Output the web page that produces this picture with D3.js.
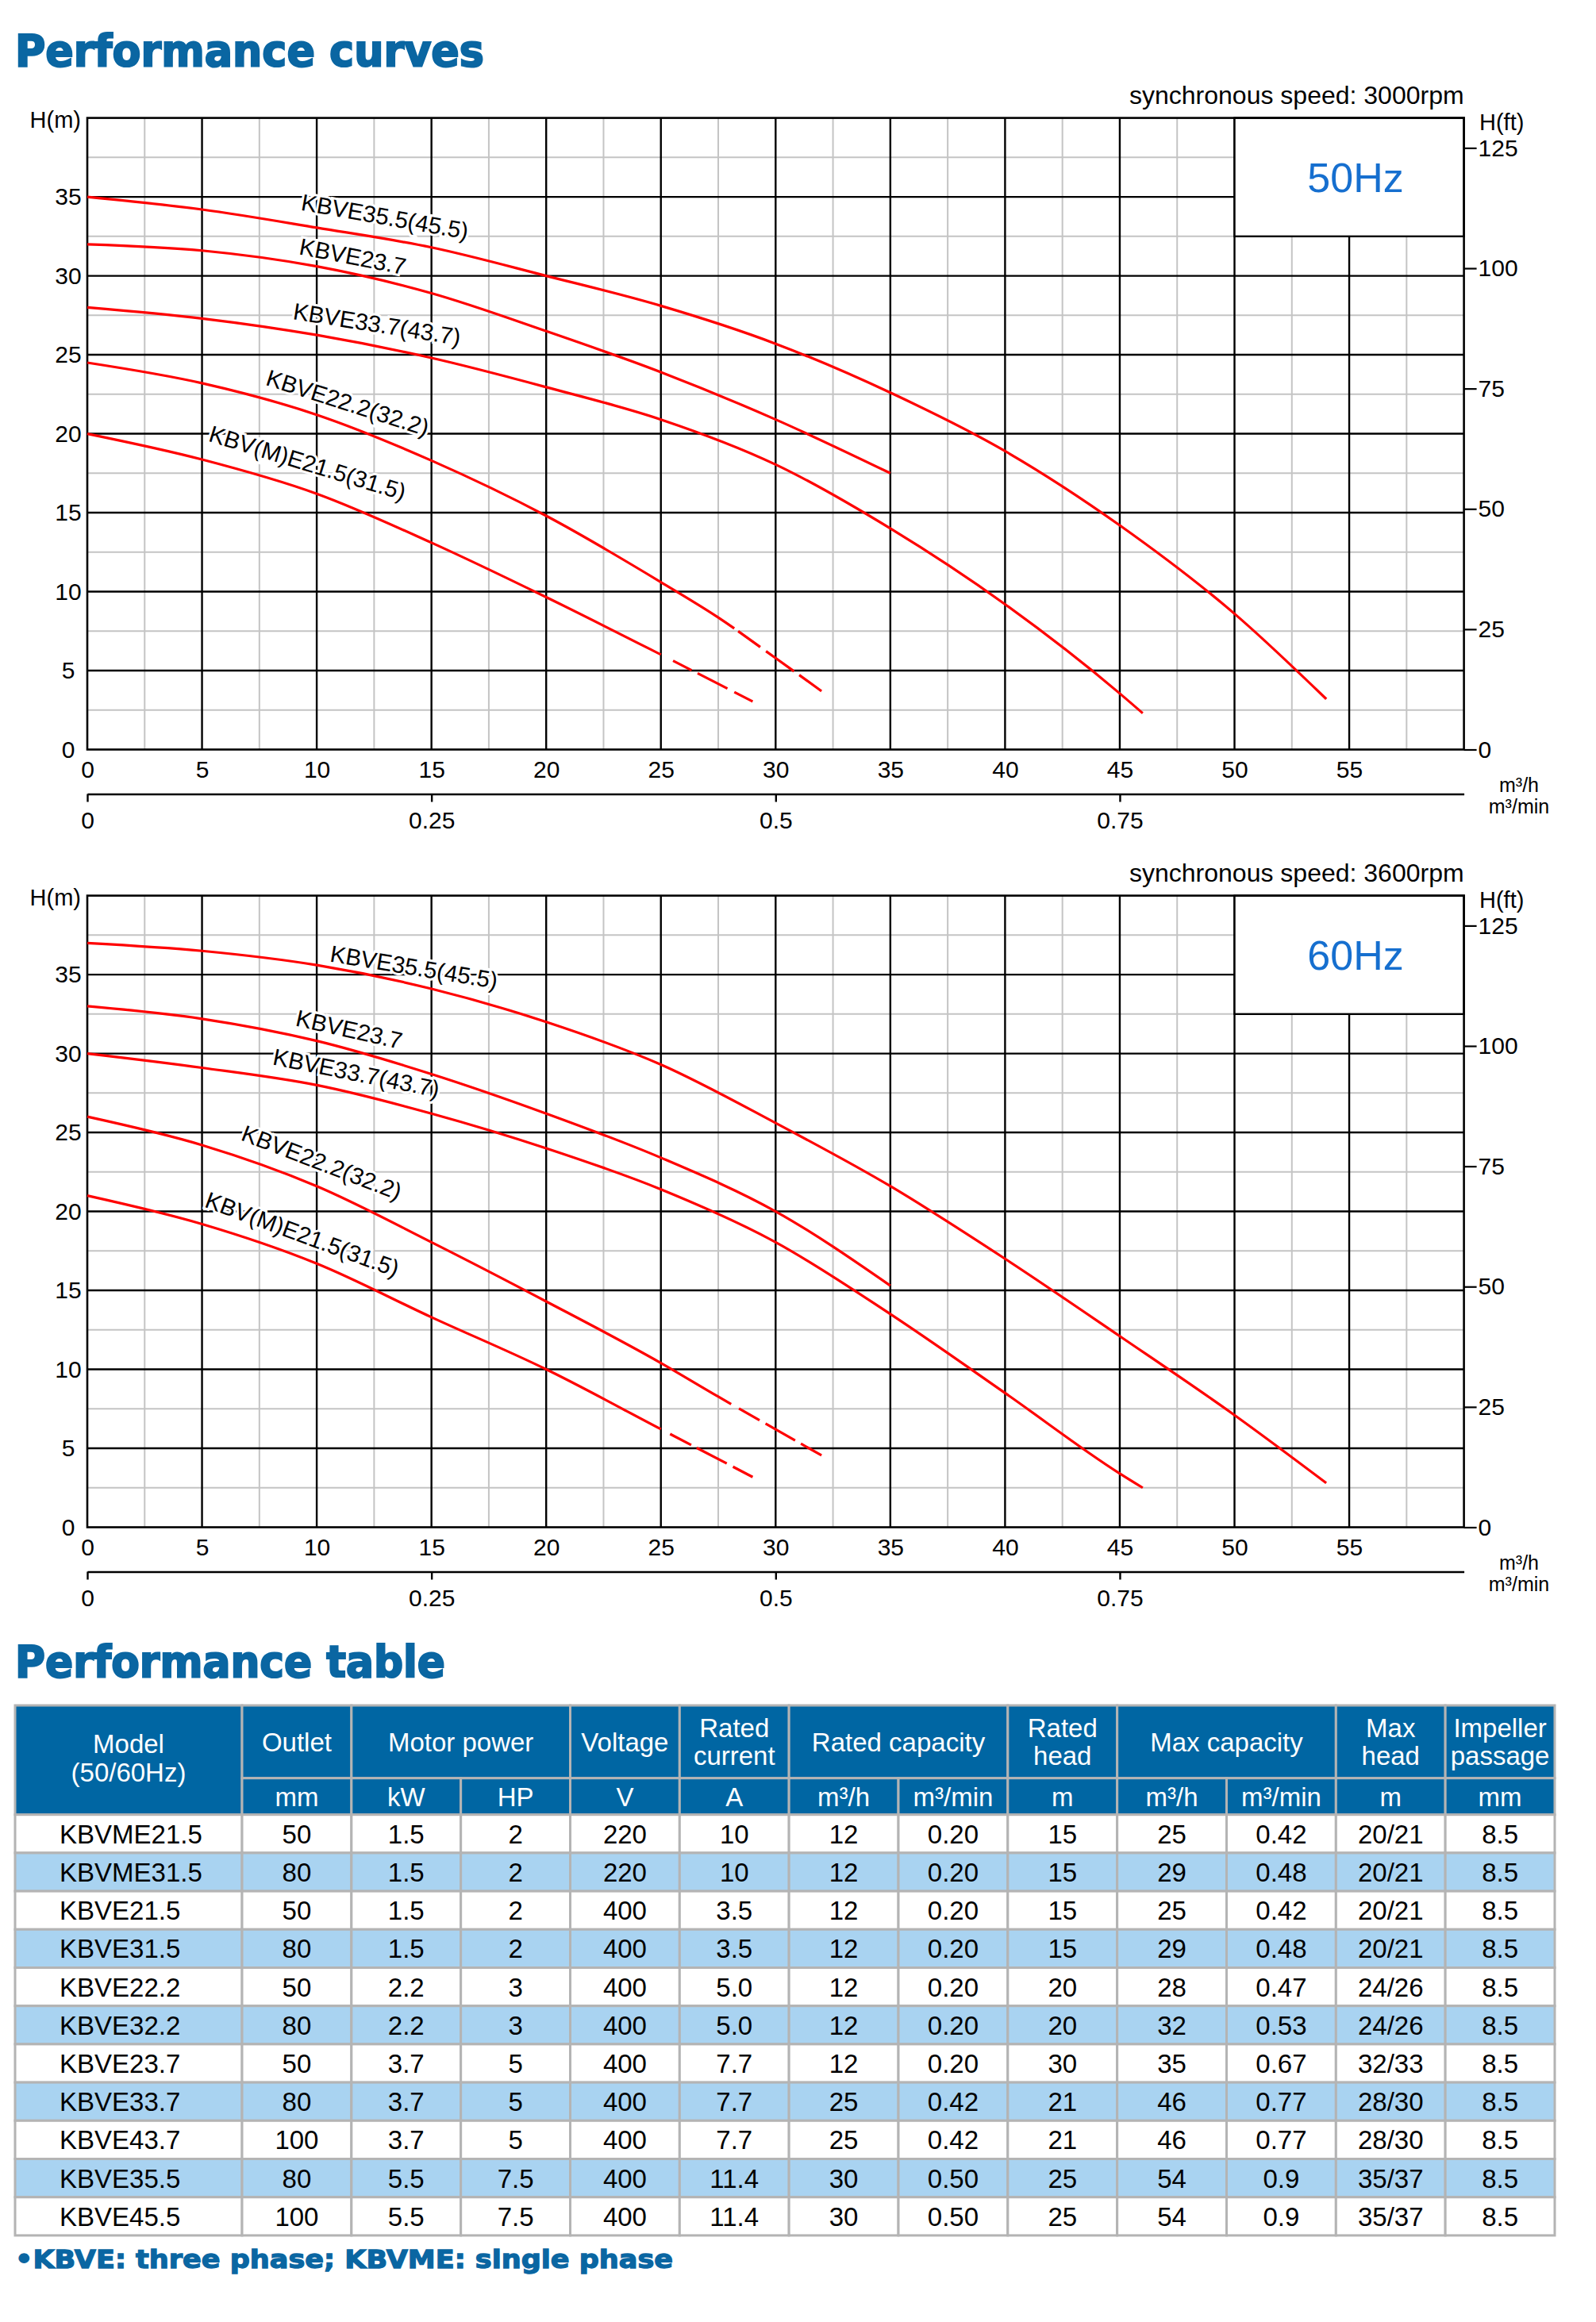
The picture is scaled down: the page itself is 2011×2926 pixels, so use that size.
<!DOCTYPE html>
<html>
<head>
<meta charset="utf-8">
<script src="https://cdn.jsdelivr.net/npm/d3@7"></script>
<style>
  body { margin: 0; background: #fff; }
  svg { display: block; }
</style>
</head>
<body>
<script>
// ---- curve data, Q in m3/h, H in m ----
var curveNames = ['KBVE35.5(45.5)', 'KBVE23.7', 'KBVE33.7(43.7)', 'KBVE22.2(32.2)', 'KBV(M)E21.5(31.5)']

// 50Hz
var c50_355 = [[0,35],[5,34.2],[10,33.05],[15,31.8],[20,30],[25,28.1],[30,25.7],[35,22.6],[40,18.9],[45,14.2],[50,8.6],[54,3.2]]
var c50_237 = [[0,32],[5,31.6],[10,30.6],[15,28.9],[20,26.5],[25,23.9],[30,20.9],[35,17.5]]
var c50_337 = [[0,28],[5,27.3],[10,26.25],[15,24.8],[20,22.95],[25,20.9],[30,18.05],[35,14],[40,9.2],[45,3.55],[46,2.3]]
var c50_222 = [[0,24.5],[5,23.2],[10,21.2],[15,18.3],[20,14.8],[25,10.6],[27.5,8.36],[30,5.79],[32,3.7]]
var c50_215 = [[0,20],[5,18.37],[10,16.2],[15,13.1],[20,9.65],[25,6.01],[29,3.04]]

// 60Hz
var c60_355 = [[0,37],[5,36.5],[10,35.6],[15,34.1],[20,32],[25,29.3],[30,25.6],[35,21.6],[40,17],[45,12.1],[50,7.1],[54,2.8]]
var c60_237 = [[0,33],[5,32.2],[10,30.8],[15,28.7],[20,26.2],[25,23.4],[30,20],[35,15.3]]
var c60_337 = [[0,30],[5,29.1],[10,28],[15,26.2],[20,24],[25,21.4],[30,18.05],[35,13.5],[40,8.5],[45,3.4],[46,2.5]]
var c60_222 = [[0,26],[5,24.2],[10,21.6],[15,18.05],[20,14.3],[25,10.4],[27.5,8.27],[30,6.2],[32,4.55]]
var c60_215 = [[0,21],[5,19.2],[10,16.7],[15,13.3],[20,10],[25,6.21],[29,3.18]]

// dashed tails: solid up to x, then dash pieces [from, to] in m3/h
var tail50 = { 3: [28.2, [[28.37,29.33],[29.58,30.8],[31.03,32.04]]],
               4: [25, [[25.53,26.34],[26.6,27.9],[28.2,29.04]]] }
var tail60 = { 3: [28.06, [[28.4,29.3],[29.56,30.85],[31.1,32.04]]],
               4: [25, [[25.4,26.32],[26.56,27.87],[28.14,29.04]]] }

// curve label anchors [Q, H, angle]
var labelAt50 = [[9.28,34.17,10],[9.19,31.37,11],[8.93,27.27,9],[7.73,23.1,17.7],[5.24,19.55,17]]
var labelAt60 = [[10.54,35.83,9.3],[9.04,31.77,12.6],[8.04,29.31,11.3],[6.65,24.54,21],[5.07,20.3,20.2]]

var xTicks = d3.range(0, 60, 5)
var yTicks = d3.range(0, 40, 5)
var ftTicks = [0, 25, 50, 75, 100, 125]
var minTicks = [0, 0.25, 0.5, 0.75]

// ---- table data ----
var models   = ['KBVME21.5','KBVME31.5','KBVE21.5','KBVE31.5','KBVE22.2','KBVE32.2','KBVE23.7','KBVE33.7','KBVE43.7','KBVE35.5','KBVE45.5']
var outlet   = ['50','80','50','80','50','80','50','80','100','80','100']
var kW       = ['1.5','1.5','1.5','1.5','2.2','2.2','3.7','3.7','3.7','5.5','5.5']
var HP       = ['2','2','2','2','3','3','5','5','5','7.5','7.5']
var voltage  = ['220','220','400','400','400','400','400','400','400','400','400']
var current  = ['10','10','3.5','3.5','5.0','5.0','7.7','7.7','7.7','11.4','11.4']
var ratedQh  = ['12','12','12','12','12','12','12','25','25','30','30']
var ratedQm  = ['0.20','0.20','0.20','0.20','0.20','0.20','0.20','0.42','0.42','0.50','0.50']
var ratedH   = ['15','15','15','15','20','20','30','21','21','25','25']
var maxQh    = ['25','29','25','29','28','32','35','46','46','54','54']
var maxQm    = ['0.42','0.48','0.42','0.48','0.47','0.53','0.67','0.77','0.77','0.9','0.9']
var maxH     = ['20/21','20/21','20/21','20/21','24/26','24/26','32/33','28/30','28/30','35/37','35/37']
var passage  = ['8.5','8.5','8.5','8.5','8.5','8.5','8.5','8.5','8.5','8.5','8.5']

var headGroups = [
  { text: ['Outlet'], from: 0, to: 0 },
  { text: ['Motor power'], from: 1, to: 2 },
  { text: ['Voltage'], from: 3, to: 3 },
  { text: ['Rated', 'current'], from: 4, to: 4 },
  { text: ['Rated capacity'], from: 5, to: 6 },
  { text: ['Rated', 'head'], from: 7, to: 7 },
  { text: ['Max capacity'], from: 8, to: 9 },
  { text: ['Max', 'head'], from: 10, to: 10 },
  { text: ['Impeller', 'passage'], from: 11, to: 11 }
]
var units = ['mm','kW','HP','V','A','m³/h','m³/min','m','m³/h','m³/min','m','mm']

// ---- drawing ----
var FONT = '"Liberation Sans", Arial, Helvetica, sans-serif'
var HEAVY = '"DejaVu Sans", "Liberation Sans", sans-serif'
var BLUE = '#0a66a2'

var svg = d3.select('body').append('svg')
  .attr('width', 2011)
  .attr('height', 2926)
  .style('background', '#fff')

svg.append('text')
  .attr('x', 19).attr('y', 83)
  .attr('font-family', HEAVY).attr('font-weight', 'bold').attr('font-size', 56)
  .attr('fill', BLUE).attr('stroke', BLUE).attr('stroke-width', 2.2)
  .attr('textLength', 591).attr('lengthAdjust', 'spacingAndGlyphs')
  .text('Performance curves')

var charts = [
  { dy: 0, hz: '50Hz', rpm: 'synchronous speed: 3000rpm',
    curves: [c50_355, c50_237, c50_337, c50_222, c50_215], tails: tail50, labels: labelAt50 },
  { dy: 980, hz: '60Hz', rpm: 'synchronous speed: 3600rpm',
    curves: [c60_355, c60_237, c60_337, c60_222, c60_215], tails: tail60, labels: labelAt60 }
]

charts.forEach(drawChart)

function drawChart(cfg) {
  var g = svg.append('g').attr('transform', 'translate(0,' + cfg.dy + ')')

  var x = d3.scaleLinear().domain([0, 60]).range([110, 1844.6])
  var y = d3.scaleLinear().domain([0, 40]).range([944.5, 148.6])
  var yFt = d3.scaleLinear().domain([0, 40 * 3.28084]).range(y.range())
  var xMin = d3.scaleLinear().domain([0, 1]).range(x.range())

  // minor grid
  g.append('g').selectAll('line').data(d3.range(2.5, 60, 5)).enter().append('line')
    .attr('x1', d => x(d)).attr('x2', d => x(d)).attr('y1', y(0)).attr('y2', y(40))
    .attr('stroke', '#c4c4c4').attr('stroke-width', 2)
  g.append('g').selectAll('line').data(d3.range(2.5, 40, 5)).enter().append('line')
    .attr('y1', d => y(d)).attr('y2', d => y(d)).attr('x1', x(0)).attr('x2', x(60))
    .attr('stroke', '#c4c4c4').attr('stroke-width', 2)

  // major grid
  g.append('g').selectAll('line').data(d3.range(5, 60, 5)).enter().append('line')
    .attr('x1', d => x(d)).attr('x2', d => x(d)).attr('y1', y(0)).attr('y2', y(40))
    .attr('stroke', '#000').attr('stroke-width', 2.4)
  g.append('g').selectAll('line').data(d3.range(5, 40, 5)).enter().append('line')
    .attr('y1', d => y(d)).attr('y2', d => y(d)).attr('x1', x(0)).attr('x2', x(60))
    .attr('stroke', '#000').attr('stroke-width', 2.4)

  // hz box
  g.append('rect')
    .attr('x', x(50)).attr('y', y(40))
    .attr('width', x(60) - x(50)).attr('height', y(32.5) - y(40))
    .attr('fill', '#fff').attr('stroke', '#000').attr('stroke-width', 2.4)
  g.append('text')
    .attr('x', 1708).attr('y', 242.4)
    .attr('text-anchor', 'middle')
    .attr('font-family', FONT).attr('font-size', 52)
    .attr('fill', '#166fcf')
    .text(cfg.hz)

  // frame
  g.append('rect')
    .attr('x', x(0)).attr('y', y(40))
    .attr('width', x(60) - x(0)).attr('height', y(0) - y(40))
    .attr('fill', 'none').attr('stroke', '#000').attr('stroke-width', 2.6)

  // curve labels (white halo knocks out grid)
  g.append('g').selectAll('text').data(cfg.labels).enter().append('text')
    .attr('transform', d => 'translate(' + x(d[0]) + ',' + y(d[1]) + ') rotate(' + d[2] + ')')
    .attr('font-family', FONT).attr('font-size', 29.5)
    .attr('fill', '#000')
    .attr('stroke', '#fff').attr('stroke-width', 6).attr('paint-order', 'stroke')
    .text((d, i) => curveNames[i])

  // curves
  var line = d3.line()
    .x(d => x(d[0]))
    .y(d => y(d[1]))
    .curve(d3.curveMonotoneX)

  var paths = g.append('g').selectAll('path').data(cfg.curves).enter().append('path')
    .attr('d', line)
    .attr('fill', 'none')
    .attr('stroke', '#ff0000')
    .attr('stroke-width', 3.2)

  paths.each(function(d, i) {
    var tail = cfg.tails[i]
    if (!tail) return
    var node = this
    var total = node.getTotalLength()
    var solidEnd = lenAtX(node, x(tail[0]))
    var parts = [solidEnd]
    var prev = solidEnd
    tail[1].forEach(function(seg) {
      var a = lenAtX(node, x(seg[0]))
      var b = lenAtX(node, x(seg[1]))
      parts.push(a - prev, b - a)
      prev = b
    })
    parts.push(total)
    d3.select(node).attr('stroke-dasharray', parts.map(v => v.toFixed(2)).join(' '))
  })

  // left axis
  var left = g.append('g')
    .attr('transform', 'translate(' + x(0) + ',0)')
    .call(d3.axisLeft(y).tickValues(yTicks).tickSize(0).tickPadding(0))
  left.select('.domain').remove()
  left.selectAll('text')
    .attr('x', -24).attr('text-anchor', 'middle')
    .attr('font-size', 30).attr('font-family', FONT).attr('fill', '#000')

  g.append('text')
    .attr('x', 102).attr('y', 160.5)
    .attr('text-anchor', 'end')
    .attr('font-family', FONT).attr('font-size', 29)
    .text('H(m)')

  // right axis (feet)
  var right = g.append('g')
    .attr('transform', 'translate(' + x(60) + ',0)')
    .call(d3.axisRight(yFt).tickValues(ftTicks).tickSize(16).tickPadding(2))
  right.select('.domain').remove()
  right.selectAll('.tick line').attr('stroke', '#000').attr('stroke-width', 2.2)
  right.selectAll('text')
    .attr('font-size', 30).attr('font-family', FONT).attr('fill', '#000')

  g.append('text')
    .attr('x', 1864).attr('y', 164)
    .attr('font-family', FONT).attr('font-size', 29)
    .text('H(ft)')

  // bottom axis m3/h
  var bottom = g.append('g')
    .attr('transform', 'translate(0,' + y(0) + ')')
    .call(d3.axisBottom(x).tickValues(xTicks).tickSize(0).tickPadding(14))
  bottom.select('.domain').remove()
  bottom.selectAll('text')
    .attr('font-size', 30).attr('font-family', FONT).attr('fill', '#000')

  // secondary axis m3/min
  var second = g.append('g')
    .attr('transform', 'translate(0,' + (y(0) + 56) + ')')
    .call(d3.axisBottom(xMin).tickValues(minTicks).tickFormat(d => String(d))
      .tickSizeInner(10).tickSizeOuter(0).tickPadding(12))
  second.select('.domain').attr('stroke', '#000').attr('stroke-width', 2.6)
  second.selectAll('.tick line').attr('stroke', '#000').attr('stroke-width', 2.4)
  second.selectAll('text')
    .attr('font-size', 30).attr('font-family', FONT).attr('fill', '#000')

  g.append('text')
    .attr('x', 1914).attr('y', y(0) + 53.5)
    .attr('text-anchor', 'middle')
    .attr('font-family', FONT).attr('font-size', 25)
    .text('m³/h')
  g.append('text')
    .attr('x', 1914).attr('y', y(0) + 80)
    .attr('text-anchor', 'middle')
    .attr('font-family', FONT).attr('font-size', 25)
    .text('m³/min')

  g.append('text')
    .attr('x', x(60)).attr('y', 130.6)
    .attr('text-anchor', 'end')
    .attr('font-family', FONT).attr('font-size', 32)
    .text(cfg.rpm)
}

function lenAtX(node, px) {
  var lo = 0, hi = node.getTotalLength()
  for (var k = 0; k < 40; k++) {
    var mid = (lo + hi) / 2
    if (node.getPointAtLength(mid).x < px) lo = mid
    else hi = mid
  }
  return (lo + hi) / 2
}

// ---- performance table ----
svg.append('text')
  .attr('x', 19).attr('y', 2112.7)
  .attr('font-family', HEAVY).attr('font-weight', 'bold').attr('font-size', 55)
  .attr('fill', BLUE).attr('stroke', BLUE).attr('stroke-width', 2.2)
  .attr('textLength', 542).attr('lengthAdjust', 'spacingAndGlyphs')
  .text('Performance table')

var tTop = 2149, head1 = 91.7, head2 = 46, rowH = 48.2
var modelX0 = 19, modelX1 = 305
var col = d3.scaleBand().domain(d3.range(12)).range([modelX1, 1959])
var rowY = d3.scaleLinear().domain([0, 1]).range([tTop + head1 + head2, tTop + head1 + head2 + rowH])
var GRID = '#b4b4b4'
var HEAD = '#0066a3'
var ALT = '#a9d3f1'

var columns = [outlet, kW, HP, voltage, current, ratedQh, ratedQm, ratedH, maxQh, maxQm, maxH, passage]
var rows = models.map(function(m, i) {
  return { model: m, cells: columns.map(c => c[i]) }
})

var tbl = svg.append('g')
  .attr('font-family', FONT)

// header: model cell
tbl.append('rect')
  .attr('x', modelX0).attr('y', tTop)
  .attr('width', modelX1 - modelX0).attr('height', head1 + head2)
  .attr('fill', HEAD).attr('stroke', GRID).attr('stroke-width', 3)
var cyModel = tTop + (head1 + head2) / 2
tbl.append('text')
  .attr('x', (modelX0 + modelX1) / 2).attr('y', cyModel - 9)
  .attr('text-anchor', 'middle').attr('font-size', 33).attr('fill', '#fff')
  .text('Model')
tbl.append('text')
  .attr('x', (modelX0 + modelX1) / 2).attr('y', cyModel + 27)
  .attr('text-anchor', 'middle').attr('font-size', 33).attr('fill', '#fff')
  .text('(50/60Hz)')

// header: group cells
var hg = tbl.append('g').selectAll('g').data(headGroups).enter().append('g')
hg.append('rect')
  .attr('x', d => col(d.from)).attr('y', tTop)
  .attr('width', d => col(d.to) + col.bandwidth() - col(d.from)).attr('height', head1)
  .attr('fill', HEAD).attr('stroke', GRID).attr('stroke-width', 3)
hg.each(function(d) {
  var cx = (col(d.from) + col(d.to) + col.bandwidth()) / 2
  var cy = tTop + head1 / 2
  var ys = d.text.length === 1 ? [cy + 12] : [cy - 6, cy + 29]
  d.text.forEach(function(t, k) {
    d3.select(this).append('text')
      .attr('x', cx).attr('y', ys[k])
      .attr('text-anchor', 'middle').attr('font-size', 33).attr('fill', '#fff')
      .text(t)
  }, this)
})

// header: units
var ug = tbl.append('g').selectAll('g').data(units).enter().append('g')
ug.append('rect')
  .attr('x', (d, i) => col(i)).attr('y', tTop + head1)
  .attr('width', col.bandwidth()).attr('height', head2)
  .attr('fill', HEAD).attr('stroke', GRID).attr('stroke-width', 3)
ug.append('text')
  .attr('x', (d, i) => col(i) + col.bandwidth() / 2).attr('y', tTop + head1 + head2 / 2 + 12)
  .attr('text-anchor', 'middle').attr('font-size', 33).attr('fill', '#fff')
  .text(d => d)

// body rows
var rg = tbl.append('g').selectAll('g').data(rows).enter().append('g')
rg.append('rect')
  .attr('x', modelX0).attr('y', (d, i) => rowY(i))
  .attr('width', modelX1 - modelX0).attr('height', rowH)
  .attr('fill', (d, i) => i % 2 ? ALT : '#fff')
  .attr('stroke', GRID).attr('stroke-width', 3)
rg.append('text')
  .attr('x', 75).attr('y', (d, i) => rowY(i) + rowH / 2 + 12)
  .attr('font-size', 33).attr('fill', '#000')
  .text(d => d.model)
rg.each(function(r, i) {
  var sel = d3.select(this)
  sel.selectAll('rect.cell').data(r.cells).enter().append('rect')
    .attr('class', 'cell')
    .attr('x', (d, j) => col(j)).attr('y', rowY(i))
    .attr('width', col.bandwidth()).attr('height', rowH)
    .attr('fill', i % 2 ? ALT : '#fff')
    .attr('stroke', GRID).attr('stroke-width', 3)
  sel.selectAll('text.cell').data(r.cells).enter().append('text')
    .attr('class', 'cell')
    .attr('x', (d, j) => col(j) + col.bandwidth() / 2).attr('y', rowY(i) + rowH / 2 + 12)
    .attr('text-anchor', 'middle').attr('font-size', 33).attr('fill', '#000')
    .text(d => d)
})

svg.append('text')
  .attr('x', 19).attr('y', 2858)
  .attr('font-family', HEAVY).attr('font-weight', 'bold').attr('font-size', 32)
  .attr('fill', BLUE).attr('stroke', BLUE).attr('stroke-width', 1.3)
  .attr('textLength', 829).attr('lengthAdjust', 'spacingAndGlyphs')
  .text('•KBVE: three phase; KBVME: single phase')
</script>
</body>
</html>
